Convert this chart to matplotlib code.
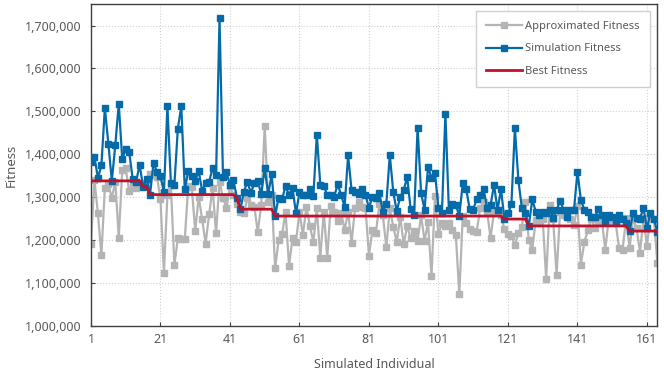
import numpy as np
import matplotlib.pyplot as plt
from matplotlib.ticker import FuncFormatter, MultipleLocator

# Simulated individuals 1..164
individual = np.arange(1, 165)

approx_fitness = [
    1192, 1340, 1262, 1165, 1322, 1330, 1298, 1336, 1206, 1363,
    1367, 1314, 1329, 1322, 1332, 1328, 1332, 1355, 1351, 1347,
    1295, 1124, 1305, 1328, 1142, 1204, 1202, 1202, 1326, 1324,
    1221, 1301, 1248, 1192, 1260, 1322, 1216, 1336, 1298, 1275,
    1325, 1305, 1285, 1266, 1262, 1297, 1281, 1278, 1219, 1281,
    1467, 1289, 1305, 1134, 1200, 1213, 1266, 1140, 1204, 1196,
    1266, 1212, 1278, 1233, 1195, 1274, 1159, 1266, 1159, 1280,
    1266, 1245, 1264, 1223, 1266, 1194, 1275, 1289, 1278, 1275,
    1164, 1223, 1216, 1285, 1258, 1183, 1274, 1231, 1196, 1254,
    1190, 1233, 1204, 1221, 1198, 1258, 1198, 1241, 1116, 1303,
    1214, 1239, 1233, 1239, 1223, 1212, 1074, 1257, 1239, 1225,
    1221, 1219, 1274, 1289, 1266, 1205, 1267, 1270, 1258, 1225,
    1215, 1210, 1188, 1216, 1231, 1288, 1200, 1177, 1247, 1243,
    1250, 1109, 1281, 1249, 1119, 1266, 1258, 1254, 1249, 1235,
    1279, 1143, 1196, 1223, 1250, 1227, 1243, 1249, 1177, 1249,
    1243, 1239, 1181, 1177, 1252, 1182, 1249, 1229, 1171, 1252,
    1186, 1258, 1250, 1147,
]

sim_fitness = [
    1382, 1394, 1345, 1374, 1508, 1425, 1338, 1421, 1518, 1388,
    1413, 1405, 1343, 1336, 1376, 1324, 1343, 1306, 1380, 1359,
    1349, 1312, 1512, 1332, 1328, 1460, 1512, 1318, 1361, 1349,
    1338, 1361, 1314, 1333, 1336, 1367, 1351, 1717, 1346, 1359,
    1328, 1340, 1298, 1272, 1312, 1336, 1310, 1332, 1338, 1307,
    1367, 1307, 1353, 1256, 1299, 1295, 1326, 1305, 1322, 1262,
    1311, 1305, 1306, 1318, 1302, 1446, 1328, 1326, 1305, 1305,
    1301, 1330, 1305, 1278, 1398, 1316, 1311, 1307, 1318, 1305,
    1275, 1301, 1298, 1309, 1266, 1285, 1398, 1312, 1267, 1301,
    1316, 1347, 1272, 1258, 1462, 1310, 1271, 1370, 1345, 1357,
    1274, 1262, 1495, 1270, 1285, 1281, 1257, 1332, 1318, 1272,
    1271, 1295, 1305, 1318, 1275, 1281, 1329, 1270, 1318, 1249,
    1262, 1283, 1461, 1340, 1275, 1262, 1233, 1295, 1266, 1258,
    1266, 1264, 1271, 1252, 1270, 1291, 1271, 1254, 1271, 1270,
    1359, 1293, 1271, 1266, 1253, 1253, 1272, 1258, 1243, 1258,
    1254, 1243, 1258, 1249, 1239, 1221, 1262, 1252, 1250, 1275,
    1227, 1264, 1250, 1219,
]

best_fitness = ([1338] * 15 + [1324] * 2 + [1306] * 25 + [1298] * 1
                + [1272] * 10 + [1256] * 66 + [1249] * 7 + [1233] * 29
                + [1221] * 8 + [1219] * 1)

# values above are in thousands
approx_fitness = np.array(approx_fitness) * 1000
sim_fitness = np.array(sim_fitness) * 1000
best_fitness = np.array(best_fitness) * 1000

plt.rcParams['font.family'] = ['Noto Sans', 'DejaVu Sans']
text_color = '#595959'

fig = plt.figure(figsize=(6.64, 3.75), dpi=100)
ax = fig.add_axes([0.137, 0.131, 0.853, 0.858])

ax.plot(individual, approx_fitness, color='#b4b4b4', lw=1.6, marker='s',
        ms=4.3, label='Approximated Fitness', zorder=2)
ax.plot(individual, sim_fitness, color='#056aa8', lw=1.6, marker='s',
        ms=4.3, label='Simulation Fitness', zorder=3)
ax.plot(individual, best_fitness, color='#c0102a', lw=2.0,
        label='Best Fitness', zorder=4)

ax.set_xlim(1, 164)
ax.set_ylim(1000000, 1750000)
ax.set_xticks(np.arange(1, 165, 20))
ax.yaxis.set_major_locator(MultipleLocator(100000))
ax.yaxis.set_major_formatter(FuncFormatter(lambda v, p: f'{int(v):,}'))

ax.grid(True, color='#d0d0d0', linestyle=':', linewidth=0.8)
ax.set_axisbelow(True)
for s in ax.spines.values():
    s.set_color('#404040')
    s.set_linewidth(1.0)
ax.tick_params(direction='in', length=3, color='#404040',
               labelsize=9, labelcolor=text_color)
ax.tick_params(axis='y', pad=7)
ax.tick_params(axis='x', pad=5)

ax.set_xlabel('Simulated Individual', fontsize=9, color=text_color, labelpad=9)
ax.set_ylabel('Fitness', fontsize=9.5, color=text_color, labelpad=5)

leg = ax.legend(loc='upper right', fontsize=8, frameon=True, fancybox=False,
                edgecolor='#d0d0d0', framealpha=1, borderpad=0.9,
                labelspacing=1.0, handlelength=3.2, handletextpad=0.3,
                bbox_to_anchor=(0.996, 0.995))
for t in leg.get_texts():
    t.set_color(text_color)

fig.savefig('out.png', dpi=100)
